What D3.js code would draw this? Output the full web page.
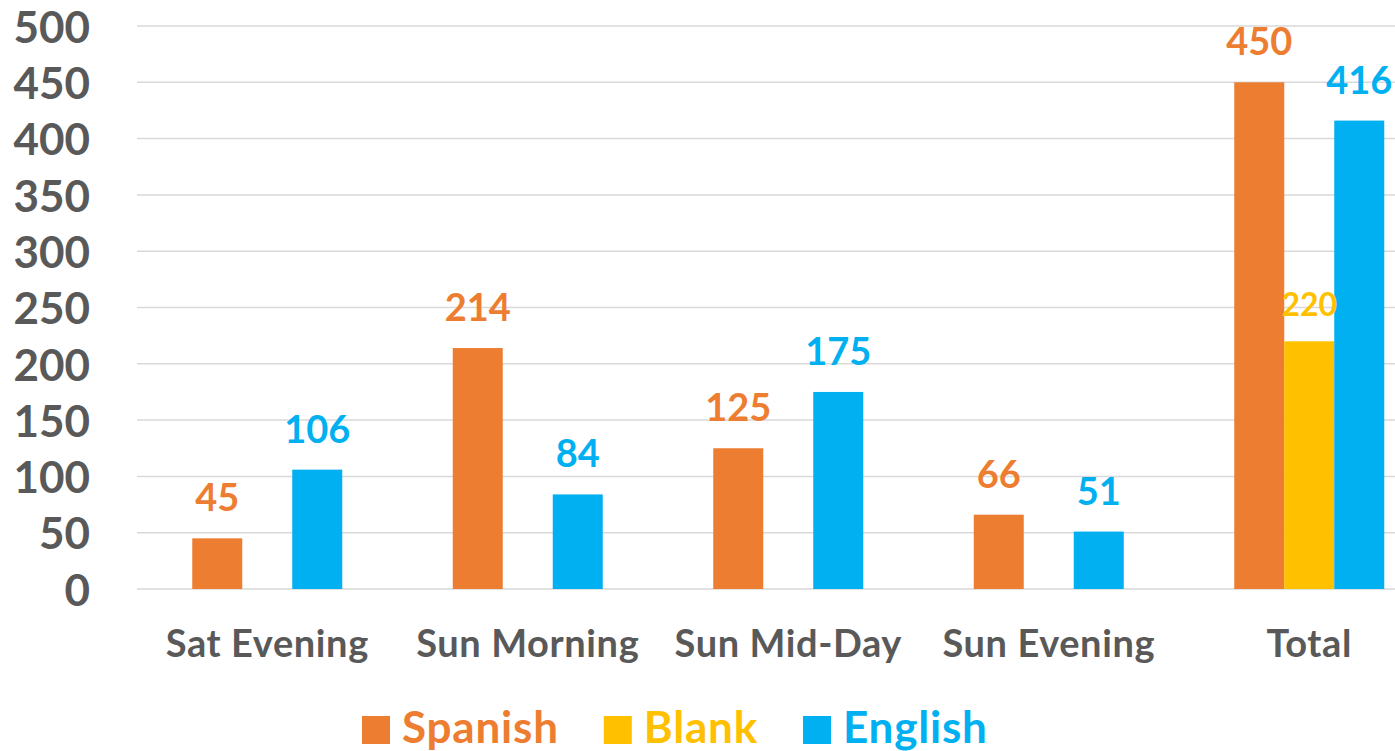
<!DOCTYPE html>
<html>
<head>
<meta charset="utf-8">
<script src="https://cdn.jsdelivr.net/npm/d3@7"></script>
<style>
  html, body { margin: 0; padding: 0; background: #fff; }
  svg { display: block; font-family: Lato, "Open Sans", sans-serif; font-weight: 700; }
</style>
</head>
<body>
<svg id="chart" width="1395" height="751"></svg>
<script>
const categories = ["Sat Evening", "Sun Morning", "Sun Mid-Day", "Sun Evening", "Total"];
const seriesNames = ["Spanish", "Blank", "English"];
const spanish = [45, 214, 125, 66, 450];
const blank = [null, null, null, null, 220];
const english = [106, 84, 175, 51, 416];
const yTicks = [0, 50, 100, 150, 200, 250, 300, 350, 400, 450, 500];
const colors = ["#ED7D31", "#FFC000", "#00B0F0"];

const seriesValues = [spanish, blank, english];
const svg = d3.select("#chart");
const W = 1395;

const y = d3.scaleLinear().domain([0, 500]).range([589, 26]);
const x0 = d3.scaleBand().domain(categories).range([137, 1439.5])
  .paddingInner(110.5 / 260.5).paddingOuter(110.5 / 260.5 / 2);
const x1 = d3.scaleBand().domain(seriesNames).range([0, x0.bandwidth()]);

// gridlines
svg.append("g").selectAll("line").data(yTicks).join("line")
  .attr("x1", 137).attr("x2", W)
  .attr("y1", d => y(d)).attr("y2", d => y(d))
  .attr("stroke", "#d9d9d9").attr("stroke-width", 1.5);

// y tick labels
const yAxis = d3.axisLeft(y).tickValues(yTicks).tickSize(0).tickPadding(0);
const ya = svg.append("g").attr("transform", "translate(90,0)").call(yAxis);
ya.select(".domain").remove();
ya.selectAll("text").attr("font-size", 44).attr("fill", "#595959")
  .attr("font-family", "Lato, sans-serif").attr("font-weight", 700)
  .attr("dy", "0.37em");

// bars
const rows = [];
categories.forEach((c, i) => {
  seriesNames.forEach((s, j) => {
    const v = seriesValues[j][i];
    if (v !== null && v !== undefined) rows.push({ c, s, v, j });
  });
});

svg.append("g").selectAll("rect").data(rows).join("rect")
  .attr("x", d => x0(d.c) + x1(d.s))
  .attr("width", x1.bandwidth())
  .attr("y", d => y(d.v))
  .attr("height", d => y(0) - y(d.v))
  .attr("fill", d => colors[d.j]);

// data labels
svg.append("g").selectAll("text").data(rows).join("text")
  .attr("x", d => x0(d.c) + x1(d.s) + x1.bandwidth() / 2)
  .attr("y", d => y(d.v) - (d.s === "Blank" ? 25 : 27))
  .attr("text-anchor", "middle")
  .attr("font-size", d => d.s === "Blank" ? 32 : 38)
  .attr("fill", d => colors[d.j])
  .text(d => d.v);

// category labels
const xAxis = d3.axisBottom(x0).tickSize(0).tickPadding(0);
const xa = svg.append("g").attr("transform", "translate(0,657)").call(xAxis);
xa.select(".domain").remove();
xa.selectAll("text").attr("font-size", 38).attr("fill", "#595959")
  .attr("font-family", "Lato, sans-serif").attr("font-weight", 700)
  .attr("letter-spacing", 0.6)
  .attr("dy", 0);

// legend
const leg = svg.append("g");
let lx = 362;
seriesNames.forEach((s, j) => {
  leg.append("rect").attr("x", lx).attr("y", 716).attr("width", 28).attr("height", 28)
    .attr("fill", colors[j]);
  const t = leg.append("text").attr("x", lx + 40).attr("y", 743)
    .attr("font-size", 44).attr("letter-spacing", 0.8).attr("fill", colors[j]).text(s);
  const w = t.node().getComputedTextLength();
  lx = lx + 40 + w + 45;
});
</script>
</body>
</html>
